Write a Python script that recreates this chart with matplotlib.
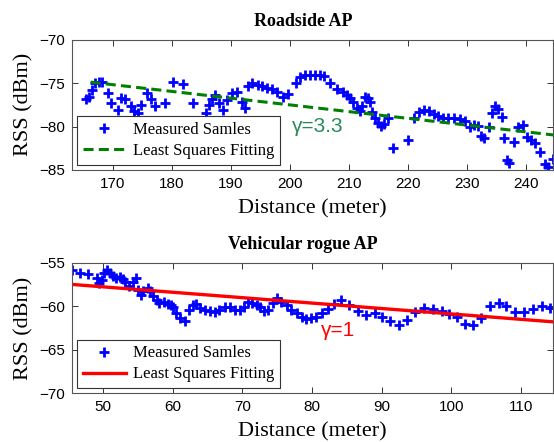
import numpy as np
import matplotlib
matplotlib.use('Agg')
import matplotlib.pyplot as plt

# roadside AP: distance (m) and RSS (dBm)
road_dist = [165.4, 165.9, 166.5, 167.0, 167.6, 168.2, 169.1, 169.6, 170.8, 171.3,
             172.1, 173.0, 173.6, 174.2, 174.8, 175.7, 176.4, 177.2, 178.9, 180.2,
             181.9, 183.5, 185.7, 186.2, 186.8, 187.3, 187.9, 188.7, 189.4, 190.2,
             191.1, 191.9, 192.4, 192.9, 193.6, 194.5, 195.3, 196.1, 197.0, 197.8,
             198.9, 199.7, 201.1, 201.7, 202.6, 203.4, 204.3, 205.1, 205.8, 206.8,
             208.0, 209.0, 209.7, 210.2, 210.7, 211.4, 211.9, 212.2, 212.7, 213.2,
             213.6, 213.9, 214.4, 214.9, 215.4, 215.9, 216.6, 217.5, 220.0, 221.0,
             221.9, 222.7, 223.6, 224.4, 225.1, 225.9, 226.8, 227.8, 228.8, 229.7,
             230.5, 231.2, 231.9, 232.4, 232.9, 233.7, 234.2, 234.7, 235.2, 235.9,
             236.2, 236.8, 237.1, 237.9, 238.6, 239.5, 240.1, 240.8, 241.5, 242.3,
             243.2, 243.7, 244.5]
road_rss = [-76.8, -76.6, -75.8, -75.0, -74.9, -74.9, -76.1, -77.3, -78.1, -76.7,
            -76.8, -77.7, -78.2, -78.4, -77.5, -76.1, -76.8, -77.7, -77.3, -74.9,
            -75.1, -77.3, -78.4, -77.5, -76.8, -76.4, -77.3, -78.1, -76.9, -76.1,
            -76.0, -77.2, -77.9, -75.3, -75.0, -75.2, -75.4, -75.6, -75.7, -76.0,
            -76.6, -76.3, -75.0, -74.3, -74.1, -74.1, -74.1, -74.1, -74.2, -75.0,
            -75.7, -76.0, -76.4, -76.7, -77.2, -77.9, -78.2, -77.7, -76.6, -76.7,
            -77.2, -78.3, -79.0, -79.6, -79.9, -79.7, -79.0, -82.5, -81.5, -79.0,
            -78.3, -78.1, -78.2, -78.6, -78.8, -79.0, -79.0, -79.0, -79.1, -79.4,
            -80.1, -79.8, -79.9, -81.1, -81.3, -80.1, -78.4, -77.7, -78.0, -78.9,
            -81.3, -83.8, -84.2, -81.8, -80.1, -79.8, -81.2, -81.5, -81.9, -82.9,
            -84.3, -84.7, -83.7]
road_fit_dist = [166.2, 245.0]
road_fit_rss = [-74.9, -81.0]

# vehicular rogue AP
rogue_dist = [45.6, 46.7, 47.9, 49.1, 49.4, 49.8, 50.2, 50.5, 51.0, 51.4,
              51.9, 52.4, 52.8, 53.1, 53.7, 54.3, 54.7, 55.0, 55.4, 55.7,
              56.5, 56.7, 57.2, 57.8, 58.1, 58.7, 59.3, 59.8, 60.0, 60.5,
              61.0, 61.7, 62.3, 62.9, 63.4, 63.9, 64.6, 65.3, 66.0, 66.7,
              67.5, 68.2, 68.9, 69.6, 70.2, 70.8, 71.4, 72.1, 72.6, 73.1,
              73.7, 74.4, 75.0, 75.6, 76.4, 77.0, 77.8, 78.5, 79.2, 79.8,
              80.5, 81.4, 82.3, 83.1, 84.2, 85.3, 86.6, 87.7, 89.0, 90.1,
              91.2, 92.5, 93.6, 94.8, 96.0, 97.3, 98.6, 99.6, 100.8, 102.0,
              103.1, 104.3, 105.6, 106.8, 107.9, 109.2, 110.4, 111.7, 113.0, 114.1]
rogue_rss = [-55.8, -56.2, -56.3, -56.8, -57.3, -57.0, -56.2, -55.8, -56.2, -56.5,
             -56.8, -56.6, -56.9, -57.2, -57.7, -57.2, -56.8, -58.1, -58.7, -58.3,
             -57.9, -58.3, -58.8, -59.3, -59.6, -59.5, -59.7, -59.9, -60.1, -60.8,
             -61.4, -61.7, -60.4, -59.9, -59.7, -60.2, -60.4, -60.6, -60.7, -60.4,
             -60.1, -60.1, -60.4, -60.4, -60.1, -59.5, -59.6, -59.9, -60.1, -60.6,
             -60.4, -59.6, -59.1, -59.5, -59.9, -60.4, -60.8, -61.2, -61.5, -61.4,
             -61.2, -60.8, -60.3, -59.7, -59.3, -59.9, -60.6, -61.0, -60.8, -61.2,
             -61.7, -62.2, -61.6, -60.7, -60.2, -60.3, -60.6, -60.9, -61.2, -62.0,
             -62.2, -61.3, -60.0, -59.6, -60.0, -60.7, -60.7, -60.3, -60.0, -60.2]
rogue_fit_dist = [45.6, 114.7]
rogue_fit_rss = [-57.5, -61.8]

serif = 'Liberation Serif'
sans = 'Liberation Sans'

fig = plt.figure(figsize=(5.54, 4.42), dpi=100)
ax1 = fig.add_axes([0.1294, 0.6154, 0.869, 0.2952])
ax2 = fig.add_axes([0.1294, 0.1102, 0.869, 0.2955])


def style(ax):
    ax.tick_params(direction='in', top=True, right=True, length=4, width=0.7,
                   colors='#333333', labelsize=11, pad=5)
    for lab in ax.get_xticklabels() + ax.get_yticklabels():
        lab.set_fontfamily(sans)
        lab.set_color('black')
    for sp in ax.spines.values():
        sp.set_color('#555555')
        sp.set_linewidth(0.8)
    ax.set_ylabel('RSS (dBm)', fontsize=16, fontfamily=serif, labelpad=4)
    ax.set_xlabel('Distance (meter)', fontsize=16, fontfamily=serif, labelpad=6)


def add_legend(ax):
    leg = ax.legend(loc='lower left', prop={'family': serif, 'size': 12},
                    fancybox=False, framealpha=1, edgecolor='#333333',
                    borderaxespad=0.3, handlelength=2.6, borderpad=0.35,
                    labelspacing=0.3, handletextpad=0.4)
    leg.get_frame().set_linewidth(0.8)


# top
ax1.plot(road_dist, road_rss, '+', color='blue', ms=6.5, mew=2, label='Measured Samles')
ax1.plot(road_fit_dist, road_fit_rss, color='#008000', lw=2.2,
         linestyle=(0, (3.3, 1.7)), label='Least Squares Fitting')
ax1.set_xlim(163, 244.6)
ax1.set_ylim(-85, -70)
ax1.set_xticks(np.arange(170, 241, 10))
ax1.set_yticks([-85, -80, -75, -70])
style(ax1)
ax1.set_title('Roadside AP', fontsize=13, fontweight='bold', fontfamily=serif,
              x=0.48, pad=10)
ax1.text(200.3, -80.0, '\u03b3=3.3', color='#2a8a5a', fontsize=15,
         fontfamily=sans, ha='left', va='center')
add_legend(ax1)

# bottom
ax2.plot(rogue_dist, rogue_rss, '+', color='blue', ms=6.5, mew=2, label='Measured Samles')
ax2.plot(rogue_fit_dist, rogue_fit_rss, color='red', lw=2.4, label='Least Squares Fitting')
ax2.set_xlim(45.5, 114.6)
ax2.set_ylim(-70, -55)
ax2.set_xticks(np.arange(50, 111, 10))
ax2.set_yticks([-70, -65, -60, -55])
style(ax2)
ax2.set_title('Vehicular rogue AP', fontsize=13, fontweight='bold', fontfamily=serif,
              x=0.48, pad=10)
ax2.text(81.3, -62.8, '\u03b3=1', color='red', fontsize=15,
         fontfamily=sans, ha='left', va='center')
add_legend(ax2)

fig.savefig('out.png', dpi=100)
